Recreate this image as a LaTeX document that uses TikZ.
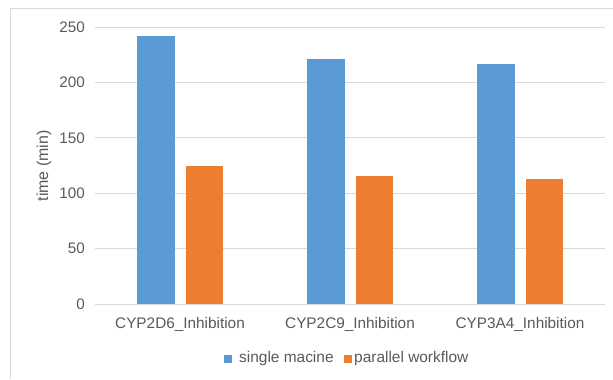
\documentclass[tikz,border=0pt]{standalone}
\usepackage{fontspec}
\setmainfont{Liberation Sans}
\definecolor{barblue}{HTML}{5B9BD5}
\definecolor{barorange}{HTML}{ED7D31}
\definecolor{gridgrey}{HTML}{D9D9D9}
\definecolor{textgrey}{HTML}{595959}
\begin{document}
\begin{tikzpicture}[x=1bp,y=-1bp,
  gridline/.style={draw=gridgrey,line width=1bp},
  framebox/.style={draw=gridgrey,line width=1bp},
  ticklabel/.style={anchor=east,inner sep=0pt,text=textgrey,font=\fontsize{15.3}{15.3}\selectfont},
  catlabel/.style={anchor=center,inner sep=0pt,text=textgrey,font=\fontsize{15.4}{15.4}\selectfont},
  legendtext/.style={anchor=west,inner sep=0pt,text=textgrey,font=\fontsize{15.5}{15.5}\selectfont},
  axistitle/.style={rotate=90,anchor=center,inner sep=0pt,text=textgrey,font=\fontsize{16}{16}\selectfont},
  legendkey/.style={inner sep=0pt,minimum size=8bp,draw=none},
]
\useasboundingbox (0,0) rectangle (613,379);
% outer chart frame (top and left edges)
\draw[framebox] (10,8) -- (613,8);
\draw[framebox] (10,8) -- (10,379);

% value axis: 0 at y=304, 250 at y=27.3
\pgfmathsetmacro{\yzero}{304}
\pgfmathsetmacro{\yscale}{(304-27.3)/250}
\foreach \v [count=\i] in {0,50,100,150,200,250}{
  \pgfmathsetmacro{\yy}{\yzero-\v*\yscale}
  \draw[gridline] (95,\yy) -- (605,\yy);
  \node[ticklabel] (tick\i) at (85,\yy) {\v};
}

% bars: group centre, single machine, parallel workflow
\foreach \cx/\a/\b [count=\g] in {180/242/124.5, 350/221/115.5, 520/216.7/112.5}{
  \pgfmathsetmacro{\ya}{\yzero-\a*\yscale}
  \pgfmathsetmacro{\yb}{\yzero-\b*\yscale}
  \fill[barblue] (\cx-43,\yzero) rectangle (\cx-5.5,\ya);
  \fill[barorange] (\cx+5.5,\yzero) rectangle (\cx+43,\yb);
}

% category labels
\node[catlabel] (cat1) at (180,324) {CYP2D6\_Inhibition};
\node[catlabel] (cat2) at (350,324) {CYP2C9\_Inhibition};
\node[catlabel] (cat3) at (520,324) {CYP3A4\_Inhibition};

% axis title
\node[axistitle] (ytitle) at (44,166) {time (min)};

% legend
\node[legendkey,fill=barblue] (keyA) at (228,358.5) {};
\node[legendtext] (legA) at (239,358) {single macine};
\node[legendkey,fill=barorange] (keyB) at (347.5,358.5) {};
\node[legendtext] (legB) at (354,358) {parallel workflow};
\end{tikzpicture}
\end{document}
